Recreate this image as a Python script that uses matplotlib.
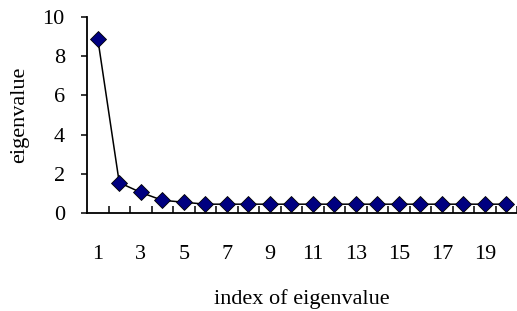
import matplotlib
matplotlib.use("Agg")
import matplotlib.pyplot as plt
import numpy as np

index = list(range(1, 21))
eigenvalues = [8.9, 1.55, 1.05, 0.65, 0.55, 0.45, 0.45, 0.45, 0.45, 0.45,
               0.45, 0.45, 0.45, 0.45, 0.45, 0.45, 0.45, 0.45, 0.45, 0.45]
xtick_labels = [str(i) for i in range(1, 21, 2)]
yticks = [0, 2, 4, 6, 8, 10]

plt.rcParams['font.family'] = ['Liberation Serif', 'DejaVu Serif']

fig = plt.figure(figsize=(5.17, 3.11), dpi=100)
ax = fig.add_axes([87/517, 1-213/311, 1-87/517, (213-17)/311])

ax.plot(index, eigenvalues, color='black', linewidth=1.1, marker='D',
        markersize=8, markerfacecolor='#000080', markeredgecolor='black',
        markeredgewidth=0.6, clip_on=False, zorder=3)

ax.set_xlim(0.5, 20.5)
ax.set_ylim(0, 10)
for s in ['top', 'right']:
    ax.spines[s].set_visible(False)
for s in ['left', 'bottom']:
    ax.spines[s].set_linewidth(1.3)

ax.set_yticks(yticks)
ax.set_yticklabels([str(v) for v in yticks])
ax.tick_params(axis='y', direction='out', length=4, width=1.1, pad=12, labelsize=16)

ax.set_xticks(list(range(1, 21, 2)))
ax.set_xticklabels(xtick_labels)
ax.set_xticks(np.arange(1.5, 20.6, 1.0), minor=True)
ax.tick_params(axis='x', which='major', length=0, pad=23, labelsize=16)
ax.tick_params(axis='x', which='minor', direction='in', length=5, width=1.1)

ax.set_xlabel('index of eigenvalue', fontsize=16, labelpad=18)
ax.set_ylabel('eigenvalue', fontsize=16, labelpad=10)

fig.savefig('out.png', dpi=100)
